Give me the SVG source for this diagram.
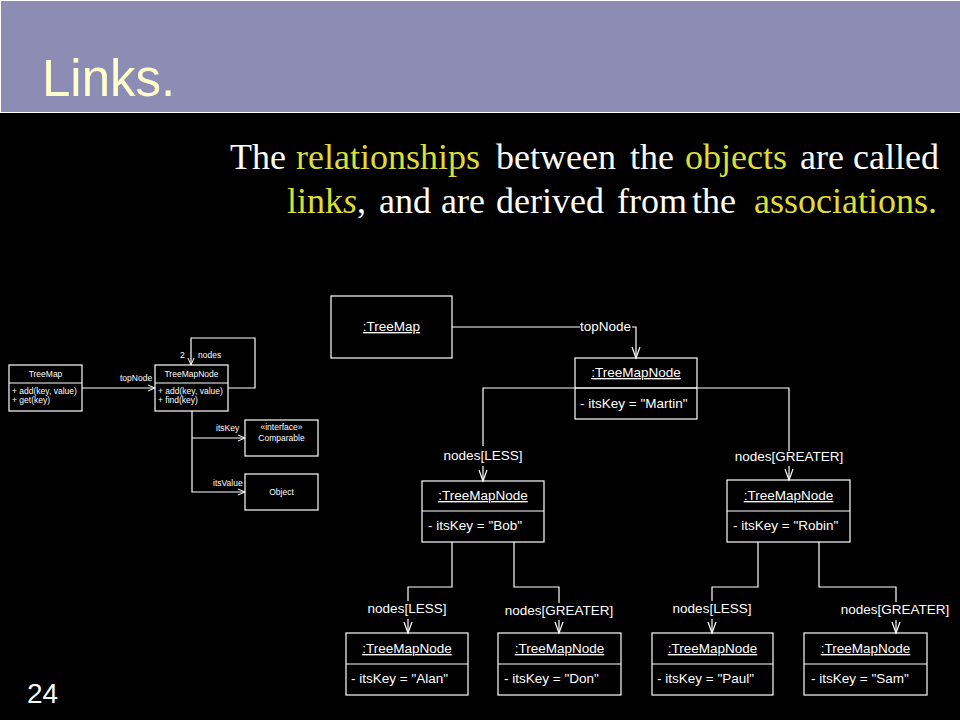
<svg xmlns="http://www.w3.org/2000/svg" width="960" height="720" viewBox="0 0 960 720">
<defs>
<style>
.box{fill:none;stroke:#fff;stroke-width:1.2}
.ln{fill:none;stroke:#fff;stroke-width:1.2}
.t{font-family:"Liberation Sans",Arial,sans-serif;font-size:13.5px;fill:#fff}
.s{font-family:"Liberation Sans",Arial,sans-serif;font-size:8.5px;fill:#fff}
.c{text-anchor:middle}
.u{text-decoration:underline}
.body{font-family:"Liberation Serif","Times New Roman",serif;font-size:36px;fill:#fff}
.y{fill:#DEDE30}
</style>
<marker id="a" markerUnits="userSpaceOnUse" markerWidth="20" markerHeight="20" refX="0" refY="0" orient="auto" overflow="visible">
<path d="M-11,-4 L0,0 L-11,4" fill="none" stroke="#fff" stroke-width="1.2"/>
</marker>
<marker id="as" markerUnits="userSpaceOnUse" markerWidth="20" markerHeight="20" refX="0" refY="0" orient="auto" overflow="visible">
<path d="M-7,-3 L0,0 L-7,3" fill="none" stroke="#fff" stroke-width="1"/>
</marker>
</defs>
<rect x="0" y="0" width="960" height="720" fill="#000"/>
<g id="header">
<rect x="0.5" y="0.5" width="960" height="112" fill="#8C8CB4" stroke="#fff" stroke-width="1"/>
<text x="42" y="96" font-family="'Liberation Sans',Arial,sans-serif" font-size="51" fill="#FFFFCC">Links.</text>
</g>
<g id="body-text">
<text class="body" y="169"><tspan x="230">The</tspan><tspan x="296" class="y">relationships</tspan><tspan x="496">between</tspan><tspan x="630">the</tspan><tspan x="685" class="y">objects</tspan><tspan x="800">are</tspan><tspan x="853">called</tspan></text>
<text class="body" y="213"><tspan x="287" class="y">link</tspan><tspan class="y" font-style="italic">s</tspan><tspan>,</tspan><tspan x="379">and</tspan><tspan x="441">are</tspan><tspan x="496">derived</tspan><tspan x="617">from</tspan><tspan x="692">the</tspan><tspan x="754" class="y">associations.</tspan></text>
</g>
<text id="page-number" x="27" y="703" font-family="'Liberation Sans',Arial,sans-serif" font-size="28" fill="#fff">24</text>

<!-- class diagram (left) -->
<g id="cd-connectors">
<path class="ln" d="M82,388 H155" marker-end="url(#as)"/>
<path class="ln" d="M228,388 H255 V338 H191 V365" marker-end="url(#as)"/>
<path class="ln" d="M192,411 V492 H245" marker-end="url(#as)"/>
<path class="ln" d="M192,438 H245" marker-end="url(#as)"/>
<text class="s" x="120" y="381">topNode</text>
<text class="s" x="180" y="358">2</text>
<text class="s" x="198" y="358">nodes</text>
<text class="s" x="216" y="431">itsKey</text>
<text class="s" x="213" y="486">itsValue</text>
</g>
<g id="cd-TreeMap">
<rect class="box" x="9" y="365" width="73" height="46"/>
<line class="ln" x1="9" y1="383" x2="82" y2="383"/>
<text class="s c" x="45.5" y="377">TreeMap</text>
<text class="s" x="12" y="394">+ add(key, value)</text>
<text class="s" x="12" y="403">+ get(key)</text>
</g>
<g id="cd-TreeMapNode">
<rect class="box" x="155" y="365" width="73" height="46"/>
<line class="ln" x1="155" y1="383" x2="228" y2="383"/>
<text class="s c" x="191.5" y="377">TreeMapNode</text>
<text class="s" x="158" y="394">+ add(key, value)</text>
<text class="s" x="158" y="403">+ find(key)</text>
</g>
<g id="cd-Comparable">
<rect class="box" x="245" y="420" width="73" height="36"/>
<text class="s c" x="281.5" y="430">«interface»</text>
<text class="s c" x="281.5" y="441">Comparable</text>
</g>
<g id="cd-Object">
<rect class="box" x="245" y="474" width="73" height="36"/>
<text class="s c" x="281.5" y="495">Object</text>
</g>

<!-- object diagram -->
<g id="connectors">
<path class="ln" d="M452,327 H580"/>
<path class="ln" d="M632,327 H636 V358" marker-end="url(#a)"/>
<text class="t" x="580" y="331">topNode</text>
<path class="ln" d="M483,446 V388 H789 V451"/>
<path class="ln" d="M483,466 V481" marker-end="url(#a)"/>
<path class="ln" d="M789,466 V480" marker-end="url(#a)"/>
<text class="t c" x="483" y="460">nodes[LESS]</text>
<text class="t c" x="789" y="461">nodes[GREATER]</text>
<path class="ln" d="M452,542 V587 H408 V601"/>
<path class="ln" d="M408,619 V633" marker-end="url(#a)"/>
<text class="t c" x="407" y="613">nodes[LESS]</text>
<path class="ln" d="M514,542 V587 H559 V603"/>
<path class="ln" d="M559,620 V633" marker-end="url(#a)"/>
<text class="t c" x="559" y="615">nodes[GREATER]</text>
<path class="ln" d="M758,542 V587 H712 V601"/>
<path class="ln" d="M712,619 V633" marker-end="url(#a)"/>
<text class="t c" x="712" y="613">nodes[LESS]</text>
<path class="ln" d="M819,542 V587 H896 V602"/>
<path class="ln" d="M896,620 V633" marker-end="url(#a)"/>
<text class="t c" x="895" y="614">nodes[GREATER]</text>
</g>
<g id="TreeMap">
<rect class="box" x="331" y="296" width="121" height="62"/>
<text class="t c u" x="391.5" y="331">:TreeMap</text>
</g>
<g id="Martin">
<rect class="box" x="575" y="358" width="122" height="61"/>
<line class="ln" x1="575" y1="388" x2="697" y2="388"/>
<text class="t c u" x="636" y="377">:TreeMapNode</text>
<text class="t" x="580" y="408">- itsKey = "Martin"</text>
</g>
<g id="Bob">
<rect class="box" x="422" y="481" width="122" height="61"/>
<line class="ln" x1="422" y1="511" x2="544" y2="511"/>
<text class="t c u" x="483" y="500">:TreeMapNode</text>
<text class="t" x="428" y="530">- itsKey = "Bob"</text>
</g>
<g id="Robin">
<rect class="box" x="727" y="480" width="123" height="62"/>
<line class="ln" x1="727" y1="511" x2="850" y2="511"/>
<text class="t c u" x="788.5" y="500">:TreeMapNode</text>
<text class="t" x="733" y="530">- itsKey = "Robin"</text>
</g>
<g id="Alan">
<rect class="box" x="346" y="633" width="122" height="62"/>
<line class="ln" x1="346" y1="664" x2="468" y2="664"/>
<text class="t c u" x="407" y="653">:TreeMapNode</text>
<text class="t" x="351" y="683">- itsKey = "Alan"</text>
</g>
<g id="Don">
<rect class="box" x="498" y="633" width="123" height="62"/>
<line class="ln" x1="498" y1="664" x2="621" y2="664"/>
<text class="t c u" x="559.5" y="653">:TreeMapNode</text>
<text class="t" x="504" y="683">- itsKey = "Don"</text>
</g>
<g id="Paul">
<rect class="box" x="652" y="633" width="121" height="62"/>
<line class="ln" x1="652" y1="664" x2="773" y2="664"/>
<text class="t c u" x="712.5" y="653">:TreeMapNode</text>
<text class="t" x="657" y="683">- itsKey = "Paul"</text>
</g>
<g id="Sam">
<rect class="box" x="804" y="633" width="123" height="62"/>
<line class="ln" x1="804" y1="664" x2="927" y2="664"/>
<text class="t c u" x="865.5" y="653">:TreeMapNode</text>
<text class="t" x="811" y="683">- itsKey = "Sam"</text>
</g>
</svg>
